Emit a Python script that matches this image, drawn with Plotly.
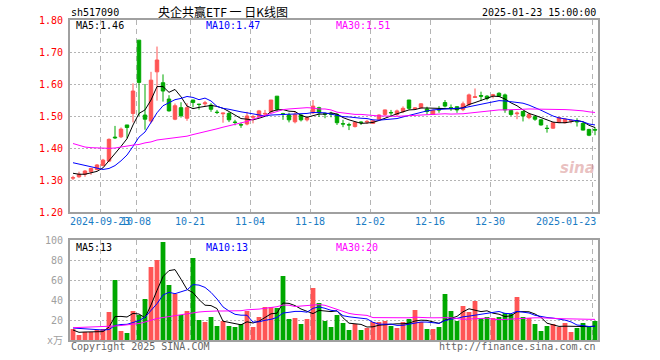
import plotly.graph_objects as go
import pandas as pd

# ---------------- data ----------------
holidays = ['2024-09-16', '2024-09-17', '2024-10-01', '2024-10-02', '2024-10-03',
            '2024-10-04', '2024-10-07', '2025-01-01']
dates = pd.bdate_range('2024-09-12', '2025-01-23', freq='C',
                       holidays=holidays).strftime('%Y-%m-%d').tolist()

tick_dates = ['2024-09-23', '2024-10-08', '2024-10-21', '2024-11-04', '2024-11-18',
              '2024-12-02', '2024-12-16', '2024-12-30', '2025-01-23']
tick_text = ['2024-09-23', '10-08', '10-21', '11-04', '11-18',
             '12-02', '12-16', '12-30', '2025-01-23']

open_ = [1.306, 1.310, 1.318, 1.326, 1.333, 1.345, 1.359, 1.434, 1.435, 1.472,
         1.508, 1.737, 1.503, 1.484, 1.638, 1.604, 1.553, 1.490, 1.526, 1.493,
         1.550, 1.537, 1.538, 1.534, 1.512, 1.507, 1.508, 1.481, 1.473, 1.475,
         1.496, 1.498, 1.506, 1.513, 1.562, 1.507, 1.503, 1.482, 1.503, 1.488,
         1.510, 1.526, 1.507, 1.507, 1.505, 1.476, 1.473, 1.467, 1.481, 1.481,
         1.477, 1.490, 1.505, 1.511, 1.505, 1.514, 1.550, 1.523, 1.526, 1.522,
         1.505, 1.520, 1.542, 1.526, 1.529, 1.520, 1.536, 1.558, 1.564, 1.562,
         1.564, 1.571, 1.566, 1.517, 1.507, 1.514, 1.495, 1.498, 1.488, 1.462,
         1.462, 1.480, 1.479, 1.484, 1.483, 1.477, 1.458, 1.458]
high = [1.313, 1.326, 1.331, 1.338, 1.350, 1.366, 1.430, 1.469, 1.464, 1.472,
        1.602, 1.737, 1.600, 1.638, 1.717, 1.630, 1.565, 1.539, 1.543, 1.540,
        1.550, 1.538, 1.547, 1.540, 1.519, 1.510, 1.512, 1.488, 1.479, 1.513,
        1.503, 1.519, 1.519, 1.550, 1.562, 1.510, 1.510, 1.514, 1.506, 1.497,
        1.550, 1.529, 1.510, 1.513, 1.508, 1.488, 1.479, 1.483, 1.483, 1.488,
        1.488, 1.505, 1.520, 1.519, 1.520, 1.530, 1.550, 1.527, 1.540, 1.529,
        1.520, 1.531, 1.550, 1.536, 1.531, 1.545, 1.570, 1.586, 1.576, 1.565,
        1.569, 1.574, 1.570, 1.519, 1.514, 1.516, 1.510, 1.500, 1.490, 1.472,
        1.481, 1.497, 1.493, 1.490, 1.493, 1.480, 1.460, 1.465]
low = [1.300, 1.307, 1.310, 1.316, 1.330, 1.343, 1.356, 1.428, 1.431, 1.430,
       1.480, 1.500, 1.457, 1.477, 1.548, 1.545, 1.514, 1.487, 1.495, 1.485,
       1.527, 1.520, 1.531, 1.513, 1.506, 1.479, 1.481, 1.471, 1.463, 1.471,
       1.477, 1.496, 1.501, 1.510, 1.516, 1.488, 1.480, 1.477, 1.483, 1.483,
       1.506, 1.497, 1.493, 1.496, 1.472, 1.465, 1.456, 1.464, 1.472, 1.475,
       1.475, 1.488, 1.500, 1.500, 1.500, 1.509, 1.520, 1.519, 1.524, 1.504,
       1.503, 1.510, 1.527, 1.516, 1.510, 1.515, 1.530, 1.557, 1.547, 1.549,
       1.555, 1.560, 1.510, 1.500, 1.490, 1.483, 1.490, 1.485, 1.470, 1.448,
       1.460, 1.478, 1.477, 1.477, 1.467, 1.455, 1.437, 1.440]
close = [1.307, 1.318, 1.328, 1.336, 1.347, 1.362, 1.427, 1.432, 1.459, 1.464,
         1.578, 1.605, 1.490, 1.612, 1.675, 1.578, 1.516, 1.532, 1.501, 1.526,
         1.542, 1.536, 1.541, 1.521, 1.511, 1.509, 1.488, 1.480, 1.472, 1.500,
         1.498, 1.516, 1.508, 1.550, 1.521, 1.506, 1.488, 1.505, 1.488, 1.495,
         1.531, 1.510, 1.506, 1.506, 1.479, 1.475, 1.472, 1.480, 1.480, 1.483,
         1.485, 1.503, 1.519, 1.510, 1.516, 1.524, 1.524, 1.525, 1.538, 1.514,
         1.517, 1.519, 1.531, 1.525, 1.519, 1.538, 1.566, 1.560, 1.562, 1.555,
         1.566, 1.562, 1.519, 1.505, 1.509, 1.500, 1.505, 1.490, 1.472, 1.461,
         1.479, 1.495, 1.490, 1.486, 1.482, 1.456, 1.440, 1.456]
ma5 = [1.321, 1.318, 1.318, 1.322, 1.327, 1.338, 1.360, 1.381, 1.405, 1.429,
       1.472, 1.508, 1.519, 1.550, 1.592, 1.592, 1.574, 1.583, 1.560, 1.531,
       1.523, 1.527, 1.529, 1.533, 1.530, 1.524, 1.514, 1.502, 1.492, 1.490,
       1.488, 1.493, 1.499, 1.514, 1.519, 1.520, 1.515, 1.514, 1.502, 1.496,
       1.501, 1.506, 1.506, 1.510, 1.506, 1.495, 1.488, 1.482, 1.477, 1.478,
       1.480, 1.486, 1.494, 1.500, 1.507, 1.514, 1.519, 1.520, 1.525, 1.525,
       1.524, 1.523, 1.524, 1.521, 1.522, 1.526, 1.536, 1.542, 1.549, 1.556,
       1.562, 1.561, 1.553, 1.541, 1.532, 1.519, 1.508, 1.502, 1.495, 1.486,
       1.481, 1.479, 1.479, 1.482, 1.486, 1.482, 1.471, 1.464]
ma10 = [1.354, 1.350, 1.346, 1.341, 1.336, 1.333, 1.336, 1.345, 1.360, 1.378,
        1.405, 1.434, 1.450, 1.478, 1.510, 1.532, 1.541, 1.551, 1.555, 1.561,
        1.558, 1.551, 1.556, 1.547, 1.530, 1.524, 1.521, 1.516, 1.513, 1.510,
        1.506, 1.504, 1.500, 1.503, 1.504, 1.504, 1.504, 1.506, 1.508, 1.508,
        1.511, 1.510, 1.510, 1.506, 1.501, 1.498, 1.497, 1.494, 1.493, 1.492,
        1.488, 1.487, 1.488, 1.489, 1.492, 1.497, 1.502, 1.507, 1.513, 1.516,
        1.519, 1.521, 1.522, 1.523, 1.524, 1.525, 1.529, 1.533, 1.535, 1.539,
        1.544, 1.548, 1.547, 1.545, 1.544, 1.540, 1.534, 1.527, 1.518, 1.509,
        1.500, 1.494, 1.491, 1.489, 1.486, 1.482, 1.475, 1.472]
ma30 = [1.414, 1.408, 1.403, 1.401, 1.400, 1.399, 1.399, 1.400, 1.402, 1.406,
        1.409, 1.411, 1.416, 1.419, 1.425, 1.427, 1.430, 1.432, 1.433, 1.437,
        1.442, 1.446, 1.451, 1.456, 1.460, 1.465, 1.469, 1.474, 1.478, 1.483,
        1.490, 1.496, 1.502, 1.509, 1.515, 1.520, 1.522, 1.524, 1.525, 1.526,
        1.525, 1.522, 1.522, 1.519, 1.512, 1.509, 1.507, 1.505, 1.505, 1.503,
        1.501, 1.500, 1.500, 1.499, 1.499, 1.500, 1.501, 1.503, 1.505, 1.505,
        1.506, 1.506, 1.507, 1.506, 1.506, 1.507, 1.509, 1.511, 1.514, 1.516,
        1.517, 1.519, 1.519, 1.519, 1.520, 1.521, 1.522, 1.522, 1.522, 1.521,
        1.521, 1.521, 1.520, 1.519, 1.518, 1.516, 1.513, 1.511]

volume = [11, 5, 8, 8, 10, 11, 28, 60, 9, 7,
          29, 25, 41, 73, 80, 98, 55, 46, 25, 29,
          82, 20, 18, 23, 14, 19, 14, 13, 16, 29,
          13, 23, 33, 33, 32, 64, 21, 22, 16, 21,
          52, 37, 19, 13, 25, 17, 10, 16, 10, 12,
          18, 18, 19, 14, 12, 18, 21, 30, 18, 11,
          11, 13, 46, 29, 19, 34, 28, 39, 22, 23,
          22, 23, 27, 26, 43, 23, 22, 16, 9, 14,
          16, 13, 17, 8, 12, 17, 13, 19]
vma5 = [10, 7.7, 8, 8, 8.4, 8.4, 13, 23.4, 23.6, 23,
        26.6, 26, 22.2, 35, 49.6, 63.4, 69.4, 70.4, 60.8, 50.6,
        47.4, 40.4, 34.8, 34.4, 31.4, 18.8, 17.6, 16.6, 15.2, 18.2,
        17, 18.8, 22.8, 26.2, 26.8, 37, 36.6, 34.4, 31, 28.8,
        26.4, 29.6, 29, 28.4, 29.2, 22.2, 16.8, 16.2, 15.6, 13,
        13.2, 14.8, 15.4, 16.2, 16.2, 16.2, 16.8, 19, 19.8, 19.6,
        18.2, 16.6, 19.8, 22, 23.6, 28.2, 31.2, 29.8, 28.4, 29.2,
        26.8, 25.8, 23.4, 24.2, 28.2, 28.4, 28.2, 26, 22.6, 16.8,
        15.4, 13.6, 13.8, 13.6, 13.2, 13.4, 13.4, 13.8]
vma10 = [12, 11.5, 11, 10.5, 10, 10, 10.5, 14.5, 15.5, 15.7,
         17.5, 19.5, 22.8, 29.3, 36.3, 45, 47.7, 46.3, 47.9, 50.1,
         55.4, 54.9, 52.6, 47.6, 41, 33.1, 29, 25.7, 24.8, 24.8,
         17.9, 18.2, 19.7, 20.7, 22.5, 27, 27.7, 28.6, 28.6, 27.8,
         31.7, 33.1, 31.7, 29.7, 29, 24.3, 23.2, 22.6, 22, 21.1,
         17.7, 15.8, 15.8, 15.9, 14.6, 14.7, 15.8, 17.2, 18, 17.9,
         17.2, 16.7, 19.4, 20.9, 21.6, 23.2, 23.9, 24.8, 25.2, 26.4,
         27.5, 28.5, 26.6, 26.3, 28.7, 27.6, 27, 24.7, 23.4, 22.5,
         21.9, 20.9, 19.9, 18.1, 15, 14.4, 13.5, 13.8]
vma30 = [12.3, 12.5, 12.7, 13, 13, 13, 13.5, 14, 14.5, 15,
         15.5, 16.5, 18, 20, 21.5, 22.5, 23.5, 24.5, 25.3, 26,
         27, 28, 28.5, 29, 29, 29, 29, 29, 29.3, 30.2,
         30.3, 30.9, 31.7, 32.5, 33.3, 35, 34.8, 33.5, 33.8, 34.2,
         35, 35.4, 34.7, 32.7, 30.8, 28.1, 26.6, 25.6, 25.1, 24.6,
         22.4, 22.4, 22.4, 22.1, 22, 22, 22.2, 22.8, 22.9, 22.3,
         22.2, 21.9, 22.3, 22.2, 21.7, 20.7, 21, 21.5, 21.7, 21.8,
         20.8, 20.3, 20.6, 21, 21.6, 21.8, 22.2, 22.2, 22.2, 21.8,
         21.6, 21.4, 21.2, 21.1, 21, 20.8, 20.7, 20.6]

price_ticks = [1.2, 1.3, 1.4, 1.5, 1.6, 1.7, 1.8]
vol_ticks = [0, 20, 40, 60, 80, 100]
vol_tick_text = ['x万', '20', '40', '60', '80', '100']

# ---------------- style ----------------
W, H = 660, 360
X0, X1 = 70, 598
MAIN_TOP, MAIN_BOT = 20, 212
VOL_TOP, VOL_BOT = 240, 340
RED = '#ff5555'
GREEN = '#00a800'
GRID = '#b4b4b4'
FRAME = '#a0a0a0'
MONO = 'DejaVu Sans Mono, monospace'
CJK = 'Noto Sans CJK SC, sans-serif'
DATE_BLUE = '#1a7cc4'


def px(x):
    return x / W


def py(y):
    return 1 - y / H


n = len(dates)
xs = list(range(n))
grid_idx = [dates.index(d) for d in tick_dates]
grid_x = [i - 0.5 for i in grid_idx]
bar_colors = [RED if c >= o else GREEN for o, c in zip(open_, close)]

fig = go.Figure()
fig.add_trace(go.Candlestick(
    x=xs, open=open_, high=high, low=low, close=close,
    increasing=dict(line=dict(color=RED, width=1), fillcolor=RED),
    decreasing=dict(line=dict(color=GREEN, width=1), fillcolor=GREEN),
    whiskerwidth=0, xaxis='x', yaxis='y', hoverinfo='skip', showlegend=False))
for arr, col in [(ma5, '#000000'), (ma10, '#0000ff'), (ma30, '#ff00ff')]:
    fig.add_trace(go.Scatter(x=xs, y=arr, mode='lines', line=dict(color=col, width=1),
                             xaxis='x', yaxis='y', hoverinfo='skip', showlegend=False))

fig.add_trace(go.Bar(x=xs, y=volume, marker=dict(color=bar_colors, line=dict(width=0)),
                     width=0.8, xaxis='x2', yaxis='y2', hoverinfo='skip', showlegend=False))
for arr, col in [(vma5, '#000000'), (vma10, '#0000ff'), (vma30, '#ff00ff')]:
    fig.add_trace(go.Scatter(x=xs, y=arr, mode='lines', line=dict(color=col, width=1),
                             xaxis='x2', yaxis='y2', hoverinfo='skip', showlegend=False))

xcommon = dict(range=[-0.5, n - 0.5], domain=[px(X0), px(X1)], tickvals=grid_x,
               showticklabels=False, ticks='', showgrid=True, gridcolor=GRID,
               griddash='5px,4px', gridwidth=1, showline=True, mirror=True,
               linecolor=FRAME, linewidth=2, zeroline=False, fixedrange=True,
               automargin=False)

annotations = []


def txt(s, x, y, color='#000000', size=10, xanchor='left', family=MONO, xref='paper'):
    annotations.append(dict(text=s, x=(x if xref == 'x' else px(x)), y=py(y), xref=xref,
                            yref='paper', xanchor=xanchor, yanchor='middle', borderpad=0,
                            showarrow=False, font=dict(family=family, size=size, color=color)))


txt('sh517090', 70, 13)
txt('央企共赢ETF 一 日K线图', 223, 12, size=12, xanchor='center', family=CJK)
txt('2025-01-23 15:00:00', 597, 13, xanchor='right')
txt(f'MA5:{ma5[-1]:.2f}', 75, 26)
txt(f'MA10:{ma10[-1]:.2f}', 205, 26, color='#0000ff')
txt(f'MA30:{ma30[-1]:.2f}', 335, 26, color='#ff00ff')
txt(f'MA5:{int(vma5[-1])}', 75, 247)
txt(f'MA10:{int(vma10[-1])}', 205, 247, color='#0000ff')
txt(f'MA30:{int(vma30[-1])}', 335, 247, color='#ff00ff')
for gx, lab in zip(grid_x[:-1], tick_text[:-1]):
    txt(lab, gx, 221, color=DATE_BLUE, xanchor='center', xref='x')
txt(tick_text[-1], n - 0.6, 221, color=DATE_BLUE, xanchor='right', xref='x')
txt('Copyright 2025 SINA.COM', 70, 346, color='#666666')
txt('http://finance.sina.com.cn', 597, 346, color='#666666', xanchor='right')
txt('<b><i>sina</i></b>', 577, 168, color='rgba(215,140,140,0.55)', size=15,
    xanchor='center', family='DejaVu Sans, sans-serif')

fig.update_layout(
    width=W, height=H, autosize=False, margin=dict(l=0, r=0, t=0, b=0, pad=0),
    paper_bgcolor='white', plot_bgcolor='white', showlegend=False,
    boxgap=0.18, bargap=0.2, hovermode=False,
    xaxis=dict(xcommon, anchor='y', rangeslider=dict(visible=False)),
    xaxis2=dict(xcommon, anchor='y2'),
    yaxis=dict(domain=[py(MAIN_BOT), py(MAIN_TOP)], range=[1.2, 1.8],
               tickvals=price_ticks, ticktext=[f'{v:.2f}' for v in price_ticks],
               tickfont=dict(family=MONO, size=10, color='#ff0000'),
               showgrid=True, gridcolor=GRID, griddash='2px,2px', gridwidth=1,
               showline=True, mirror=True, linecolor=FRAME, linewidth=2,
               zeroline=False, ticks='outside', ticklen=3, automargin=False,
               tickcolor='rgba(0,0,0,0)', fixedrange=True),
    yaxis2=dict(domain=[py(VOL_BOT), py(VOL_TOP)], range=[0, 100],
                tickvals=vol_ticks, ticktext=vol_tick_text,
                tickfont=dict(family='DejaVu Sans Mono, Noto Sans CJK SC', size=10,
                              color='#a0a0a0'),
                showgrid=True, gridcolor=GRID, griddash='2px,2px', gridwidth=1,
                showline=True, mirror=True, linecolor=FRAME, linewidth=2,
                zeroline=False, ticks='outside', ticklen=3, automargin=False,
                tickcolor='rgba(0,0,0,0)', fixedrange=True),
    annotations=annotations,
)

fig.write_html('out.html', config={'responsive': False, 'displayModeBar': False},
               post_script="document.body.style.margin='0px';"
                           "document.body.style.overflow='hidden';")
